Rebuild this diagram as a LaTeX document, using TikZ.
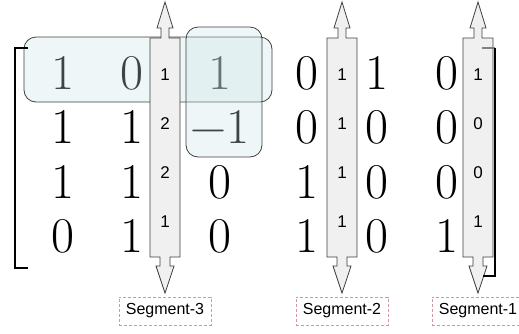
\documentclass[tikz,border=0pt]{standalone}
\usepackage{fontspec}
\usetikzlibrary{calc}
\setmainfont{Latin Modern Roman}
\newfontfamily\labelfont{Liberation Sans}
\definecolor{hilite}{RGB}{200,226,230}
\definecolor{stripgray}{RGB}{240,240,240}
\definecolor{segpink}{RGB}{214,150,160}
\newcommand{\entrytext}[1]{\ifnum#1<0 \char"2212\relax\number-#1\else#1\fi}
\tikzset{
  entry/.style={font=\fontsize{50}{50}\selectfont, inner sep=0pt, anchor=center},
  count/.style={font=\labelfont\fontsize{17}{17}\selectfont, inner sep=0pt},
  seglabel/.style={draw=segpink, densely dashed, font=\labelfont\fontsize{16}{16}\selectfont, minimum height=28pt, inner xsep=7pt},
  hibox/.style={draw=black!75, fill=hilite, fill opacity=.3, rounded corners=12pt, line width=.8pt},
  stripbox/.style={draw=black!75, fill=stripgray, line width=.8pt}
}
\begin{document}
\begin{tikzpicture}[x=1pt, y=-1pt]
\useasboundingbox (0,0) rectangle (519,333);
\foreach \r/\y in {1/73,2/127,3/182,4/236} \coordinate (row\r) at (0,\y);
\foreach \c/\x in {1/63,2/132,3/220,4/307,5/377,6/447} \coordinate (col\c) at (\x,0);
\foreach \row [count=\r] in {{1,0,1,0,1,0},{1,1,-1,0,0,0},{1,1,0,1,0,0},{0,1,0,1,0,1}}
  \foreach \v [count=\c] in \row \node[entry] (m\r\c) at (col\c |- row\r) {\entrytext{\v}};
\draw[hibox] (24,37) rectangle (272,102);
\foreach \cx/\seg/\counts in {165/3/{1,2,2,1}, 342/2/{1,1,1,1}, 478/1/{1,0,0,1}} {
  \filldraw[stripbox] ({\cx-15},38) -- ({\cx-4},38) -- ({\cx-4},28) -- ({\cx-8},28) -- (\cx,2) -- ({\cx+8},28) -- ({\cx+4},28) -- ({\cx+4},38) -- ({\cx+15},38)
    -- ({\cx+15},257) -- ({\cx+5},257) -- ({\cx+5},266) -- ({\cx+9},266) -- (\cx,293) -- ({\cx-9},266) -- ({\cx-5},266) -- ({\cx-5},257) -- ({\cx-15},257) -- cycle;
  \foreach \n [count=\k, evaluate=\k as \yk using 75+49*(\k-1)] in \counts \node[count] (s\seg r\k) at (\cx,\yk) {\n};
  \node[seglabel] (seg\seg) at (\cx,311) {Segment-\seg};
}
\draw[hibox] (186,27) rectangle (262,157);
\draw[black, line width=2.4pt] (28,48) -- (15,48) -- (15,268) -- (28,268);
\draw[black!50, line width=1.2pt] (482,48) -- (495,48);
\draw[black, line width=2.4pt] (495,48) -- (495,276) -- (483,276);
\end{tikzpicture}
\end{document}
